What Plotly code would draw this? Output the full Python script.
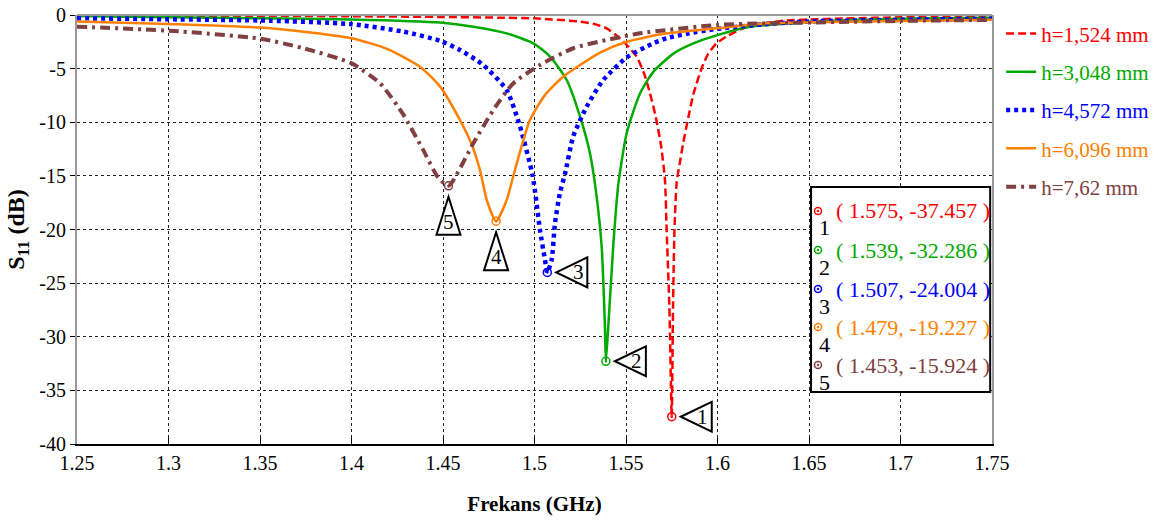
import plotly.graph_objects as go

# ---------------- data ----------------
series_names = ["h=1,524 mm", "h=3,048 mm", "h=4,572 mm", "h=6,096 mm", "h=7,62 mm"]

f_h1524 = [1.25, 1.30, 1.35, 1.40, 1.45, 1.48, 1.50, 1.5249, 1.533, 1.5394, 1.5467, 1.5515, 1.5558,
           1.5600, 1.5631, 1.5660, 1.5690, 1.5713, 1.5722, 1.5737, 1.575, 1.5757, 1.5765, 1.5777,
           1.5795, 1.5813, 1.5840, 1.5868, 1.5915, 1.5950, 1.5995, 1.605, 1.614, 1.625, 1.636,
           1.65, 1.67, 1.70, 1.75]
s_h1524 = [-0.05, -0.06, -0.08, -0.12, -0.18, -0.25, -0.31, -0.62, -0.85, -1.24, -2.17, -3.0, -3.88,
           -5.5, -7.3, -9.3, -12.0, -15.4, -20.0, -27.2, -37.457, -27.2, -20.0, -15.6,
           -13.7, -11.9, -9.6, -7.4, -4.9, -3.6, -2.64, -2.0, -1.24, -0.8, -0.53,
           -0.42, -0.32, -0.22, -0.15]

f_h3048 = [1.25, 1.30, 1.35, 1.40, 1.4484, 1.4666, 1.4848, 1.4994, 1.5085, 1.5176, 1.5249, 1.5303,
           1.534, 1.5367, 1.5385, 1.539, 1.5403, 1.543, 1.5458, 1.5504, 1.5577, 1.5649, 1.5759,
           1.5868, 1.5995, 1.6177, 1.645, 1.67, 1.70, 1.75]
s_h3048 = [-0.1, -0.2, -0.3, -0.42, -0.71, -1.09, -1.71, -2.64, -3.88, -6.06, -9.48, -12.9,
           -17.0, -21.6, -29.1, -32.286, -29.1, -21.6, -15.8, -11.0, -7.3, -5.3, -3.6,
           -2.65, -1.9, -1.1, -0.71, -0.5, -0.35, -0.25]

f_h4572 = [1.25, 1.30, 1.3555, 1.3992, 1.4283, 1.4484, 1.4593, 1.472, 1.4848, 1.4921, 1.499, 1.503,
           1.5057, 1.507, 1.5094, 1.5112, 1.5139, 1.5167, 1.5212, 1.5285, 1.5376, 1.5504, 1.5649,
           1.5722, 1.5831, 1.5995, 1.627, 1.65, 1.70, 1.75]
s_h4572 = [-0.3, -0.4, -0.53, -0.84, -1.55, -2.4, -3.26, -4.66, -7.0, -10.4, -15.0, -20.05,
           -22.8, -24.004, -22.8, -19.4, -16.6, -14.8, -11.3, -8.55, -6.06, -3.95, -2.64,
           -2.17, -1.75, -1.3, -0.84, -0.6, -0.45, -0.35]

f_h6096 = [1.25, 1.30, 1.3555, 1.40, 1.42, 1.4374, 1.4484, 1.4593, 1.4655, 1.4702, 1.4739, 1.479,
           1.4848, 1.4893, 1.4975, 1.506, 1.5157, 1.5358, 1.5504, 1.5722, 1.5995, 1.627, 1.70, 1.75]
s_h6096 = [-0.6, -0.84, -1.24, -2.17, -3.2, -4.82, -6.68, -9.8, -12.0, -14.45, -17.25, -19.227,
           -17.25, -14.45, -9.8, -7.4, -5.75, -3.5, -2.49, -1.71, -1.24, -0.78, -0.55, -0.45]

f_h762 = [1.25, 1.30, 1.35, 1.3737, 1.40, 1.4156, 1.428, 1.4392, 1.4475, 1.453, 1.4557, 1.4666,
          1.4775, 1.4884, 1.503, 1.5212, 1.5394, 1.5577, 1.5995, 1.627, 1.70, 1.75]
s_h762 = [-1.09, -1.46, -2.2, -3.1, -4.5, -6.37, -9.2, -12.6, -15.2, -15.924, -15.4, -11.96,
          -8.86, -6.37, -4.66, -3.1, -2.33, -1.71, -0.93, -0.78, -0.55, -0.45]

marker_ids = ["1", "2", "3", "4", "5"]
marker_freq = [1.575, 1.539, 1.507, 1.479, 1.453]
marker_s11 = [-37.457, -32.286, -24.004, -19.227, -15.924]

x_tick_vals = [1.25, 1.30, 1.35, 1.40, 1.45, 1.50, 1.55, 1.60, 1.65, 1.70, 1.75]
x_tick_text = ["1.25", "1.3", "1.35", "1.4", "1.45", "1.5", "1.55", "1.6", "1.65", "1.7", "1.75"]
y_tick_vals = [-40, -35, -30, -25, -20, -15, -10, -5, 0]
y_tick_text = ["-40", "-35", "-30", "-25", "-20", "-15", "-10", "-5", "0"]

# ---------------- styles ----------------
colors = ["#ff0000", "#00aa00", "#0000ff", "#ff8000", "#804040"]
dashes = ["8px,4px", "solid", "4px,4px", "solid", "10px,5px,3px,5px"]
widths = [2.5, 2.5, 4.5, 2.5, 4]
FONT = "Liberation Serif"

freqs = [f_h1524, f_h3048, f_h4572, f_h6096, f_h762]
vals = [s_h1524, s_h3048, s_h4572, s_h6096, s_h762]

fig = go.Figure()
for i in range(5):
    fig.add_trace(go.Scatter(
        x=freqs[i], y=vals[i], mode="lines",
        name=f"<span style='color:{colors[i]}'>{series_names[i]}</span>",
        legendgroup=f"g{i}",
        line=dict(color=colors[i], width=widths[i], dash=dashes[i], shape="spline", smoothing=0.6),
        hoverinfo="skip"))

# minimum markers
for i in range(5):
    fig.add_trace(go.Scatter(
        x=[marker_freq[i]], y=[marker_s11[i]], mode="markers", showlegend=False,
        marker=dict(symbol="circle-open-dot", size=8, color=colors[i], line=dict(width=1.5)),
        hoverinfo="skip"))

shapes = []
annotations = []
# triangle flags
for i in range(5):
    if i < 3:
        path = "M 9,0 L 40,15 L 40,-15 Z"
        xs, ys = 31, 0
    else:
        path = "M 0,-11 L 12,-49 L -12,-49 Z"
        xs, ys = 0, -36
    shapes.append(dict(type="path", xref="x", yref="y", xsizemode="pixel", ysizemode="pixel",
                       xanchor=marker_freq[i], yanchor=marker_s11[i], path=path,
                       line=dict(color="black", width=2), fillcolor="white"))
    annotations.append(dict(x=marker_freq[i], y=marker_s11[i], xref="x", yref="y",
                            text=marker_ids[i], showarrow=False, xshift=xs, yshift=ys,
                            xanchor="center", yanchor="middle",
                            font=dict(family=FONT, size=21, color="black")))

# value box
shapes.append(dict(type="rect", xref="paper", yref="paper", x0=0.8022, x1=0.998, y0=0.1212, y1=0.599,
                   line=dict(color="black", width=2), fillcolor="white", layer="above"))
row_py = [211, 250, 289, 327, 365]
for i in range(5):
    yp = (444 - row_py[i]) / 429
    xc = (818 - 77) / 915
    shapes.append(dict(type="circle", xref="paper", yref="paper", xsizemode="pixel", ysizemode="pixel",
                       xanchor=xc, yanchor=yp, x0=-3.5, x1=3.5, y0=-3.5, y1=3.5,
                       line=dict(color=colors[i], width=1.5), fillcolor="white", layer="above"))
    shapes.append(dict(type="circle", xref="paper", yref="paper", xsizemode="pixel", ysizemode="pixel",
                       xanchor=xc, yanchor=yp, x0=-0.9, x1=0.9, y0=-0.9, y1=0.9,
                       line=dict(color=colors[i], width=1), fillcolor=colors[i], layer="above"))
    annotations.append(dict(x=xc, y=yp, xref="paper", yref="paper", text=marker_ids[i],
                            showarrow=False, xshift=6, yshift=-17,
                            xanchor="center", yanchor="middle",
                            font=dict(family=FONT, size=22, color="black")))
    annotations.append(dict(x=(834 - 77) / 915, y=yp, xref="paper", yref="paper",
                            text=f"( {marker_freq[i]:.3f}, {marker_s11[i]:.3f} )",
                            showarrow=False, xanchor="left", yanchor="middle",
                            font=dict(family=FONT, size=22, color=colors[i])))

# top border
shapes.append(dict(type="line", xref="paper", yref="paper", x0=0, x1=1, y0=1, y1=1,
                   line=dict(color="#999999", width=2)))

fig.update_layout(
    width=1161, height=523,
    margin=dict(l=77, r=169, t=15, b=79, autoexpand=False),
    paper_bgcolor="white", plot_bgcolor="white",
    font=dict(family=FONT, size=20, color="black"),
    shapes=shapes, annotations=annotations,
    legend=dict(x=1.01, y=1.004, xanchor="left", yanchor="top",
                font=dict(family=FONT, size=21), tracegroupgap=8,
                itemwidth=30, bgcolor="rgba(0,0,0,0)"),
    xaxis=dict(range=[1.25, 1.75], tickvals=x_tick_vals, ticktext=x_tick_text,
               showgrid=True, gridcolor="#222222", griddash="3px,3px", gridwidth=1,
               showline=True, linecolor="black", linewidth=1.5,
               ticks="inside", ticklen=6, tickcolor="black",
               tickfont=dict(family=FONT, size=20), zeroline=False,
               title=dict(text="<b>Frekans (GHz)</b>", standoff=24,
                          font=dict(family=FONT, size=21))),
    yaxis=dict(range=[-40, 0], tickvals=y_tick_vals, ticktext=y_tick_text,
               showgrid=True, gridcolor="#222222", griddash="3px,3px", gridwidth=1,
               showline=True, linecolor="#999999", linewidth=2, mirror=True,
               ticks="outside", ticklen=5, tickcolor="black",
               tickfont=dict(family=FONT, size=20), zeroline=False,
               title=dict(text="<b>S<sub>11</sub> (dB)</b>", standoff=8,
                          font=dict(family=FONT, size=24))),
)

fig.write_html("out.html")
